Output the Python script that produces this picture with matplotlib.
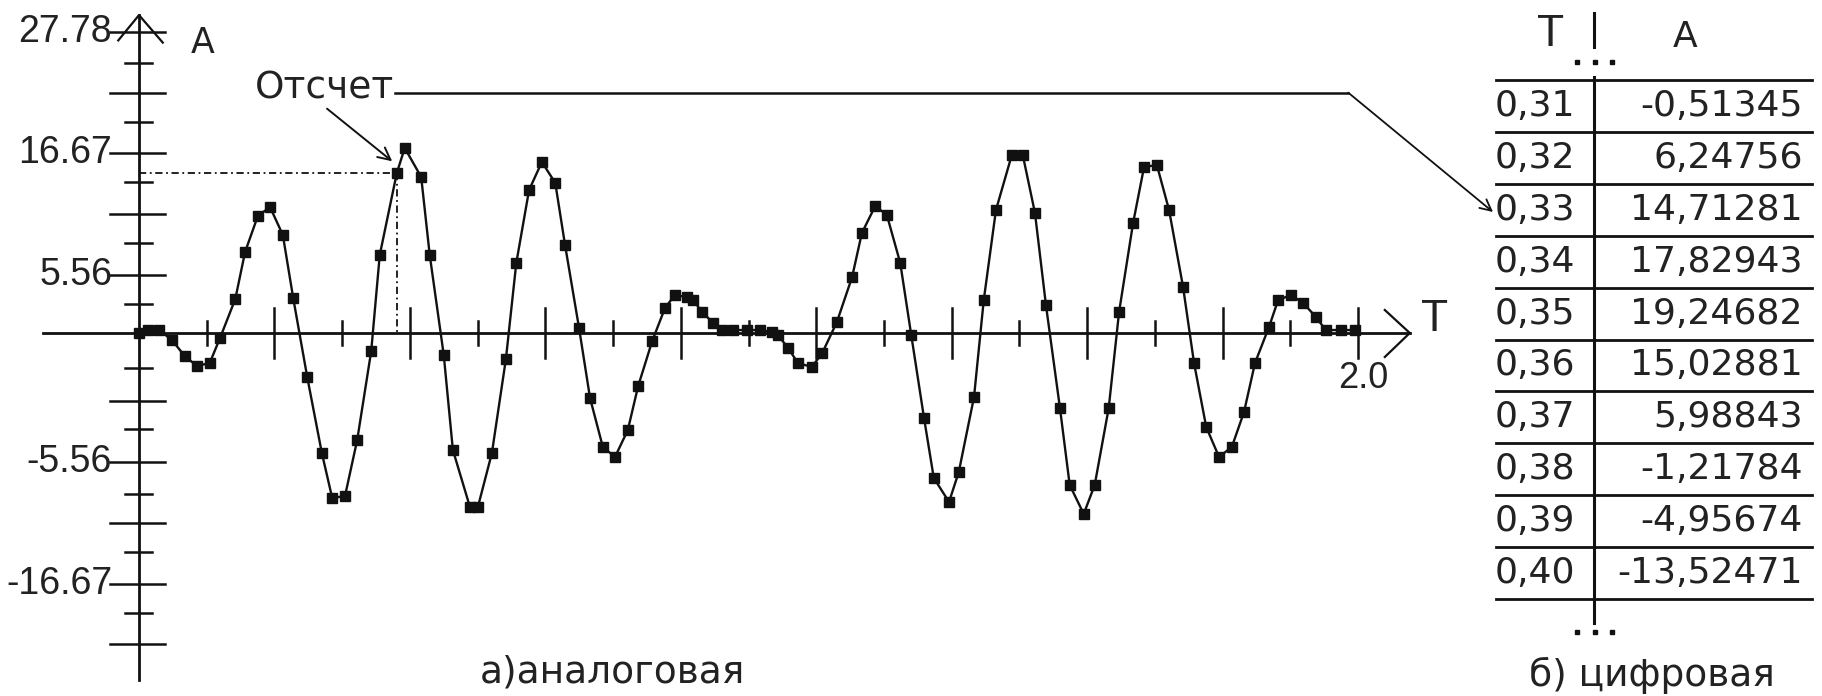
import numpy as np
import matplotlib
matplotlib.use('Agg')
from matplotlib import pyplot as plt

plt.rcParams['font.family'] = ['DejaVu Sans']

# аналоговый сигнал (отсчеты)
t_vals = [0.000, 0.015, 0.033, 0.054, 0.075, 0.095, 0.116, 0.133, 0.158, 0.174,
          0.195, 0.215, 0.236, 0.253, 0.276, 0.300, 0.317, 0.338, 0.358, 0.381,
          0.395, 0.423, 0.436, 0.463, 0.477, 0.500, 0.515, 0.543, 0.556, 0.579,
          0.602, 0.619, 0.640, 0.661, 0.683, 0.699, 0.722, 0.740, 0.761, 0.781,
          0.802, 0.819, 0.842, 0.863, 0.879, 0.899, 0.909, 0.924, 0.942, 0.957,
          0.975, 0.998, 1.019, 1.039, 1.048, 1.065, 1.081, 1.104, 1.121, 1.145,
          1.170, 1.186, 1.208, 1.227, 1.249, 1.267, 1.288, 1.304, 1.329, 1.345,
          1.370, 1.386, 1.406, 1.432, 1.450, 1.470, 1.488, 1.511, 1.527, 1.550,
          1.568, 1.591, 1.608, 1.631, 1.649, 1.670, 1.690, 1.713, 1.731, 1.751,
          1.772, 1.793, 1.813, 1.831, 1.854, 1.869, 1.890, 1.910, 1.931, 1.947,
          1.972, 1.995]
a_vals = [0.00, 0.27, 0.27, -0.64, -2.09, -3.00, -2.73, -0.45, 3.09, 7.36,
          10.64, 11.45, 8.91, 3.18, -4.00, -10.91, -15.00, -14.82, -9.73, -1.64,
          7.09, 14.55, 16.82, 14.18, 7.09, -2.00, -10.64, -15.82, -15.82, -10.91,
          -2.36, 6.36, 13.00, 15.55, 13.64, 8.00, 0.45, -5.91, -10.36, -11.27,
          -8.82, -4.82, -0.73, 2.27, 3.45, 3.27, 3.00, 1.91, 0.91, 0.27,
          0.27, 0.27, 0.27, 0.09, -0.18, -1.36, -2.73, -3.09, -1.82, 1.00,
          5.09, 9.09, 11.55, 10.73, 6.36, -0.18, -7.73, -13.18, -15.36, -12.64,
          -5.82, 3.00, 11.18, 16.18, 16.18, 10.91, 2.55, -6.82, -13.82, -16.45,
          -13.82, -6.82, 1.91, 10.00, 15.09, 15.27, 11.18, 4.18, -2.73, -8.55,
          -11.27, -10.36, -7.18, -2.73, 0.55, 3.00, 3.45, 2.73, 1.45, 0.27,
          0.27, 0.27]
sample_idx = 21  # отмеченный отсчет

# шкала A (как на картинке)
y_major = [27.36, 21.82, 16.36, 10.82, 5.27, -6.18, -11.73, -17.27, -22.82, -28.27]
y_minor = [24.55, 19.18, 13.73, 8.18, 2.64, -3.18, -8.73, -14.64, -19.91, -25.45]
y_labels = {27.36: '27.78', 16.36: '16.67', 5.27: '5.56', -11.73: '-5.56', -22.82: '-16.67'}
x_ticks = np.linspace(0, 2.0, 19)[1:]

# цифровая таблица
table_t = [0.31, 0.32, 0.33, 0.34, 0.35, 0.36, 0.37, 0.38, 0.39, 0.40]
table_a = [-0.51345, 6.24756, 14.71281, 17.82943, 19.24682, 15.02881,
           5.98843, -1.21784, -4.95674, -13.52471]

W, H = 1822, 696
X0, PX_T = 139, 609.5   # пикселей на единицу T
Y0, PX_A = 333, 11.0    # пикселей на единицу A
ink = '#111111'
txt = '#222222'

fig = plt.figure(figsize=(W / 100, H / 100), dpi=100)
fig.patch.set_facecolor('white')
ax = fig.add_axes([0, 0, 1, 1])
ax.set_xlim(-X0 / PX_T, (W - X0) / PX_T)
ax.set_ylim(-(H - Y0) / PX_A, Y0 / PX_A)
ax.axis('off')

# оси
ax.plot([0, 0], [-31.55, 28.9], color=ink, lw=2)
ax.plot([-0.034, 0, 0.039], [26.6, 28.9, 26.4], color=ink, lw=1.6)
ax.plot([-0.157, 2.085], [0, 0], color=ink, lw=2)
ax.plot([2.044, 2.085, 2.044], [2.09, 0, -2.18], color=ink, lw=1.6)

for y in y_major:
    ax.plot([-0.0476, 0.0427], [y, y], color=ink, lw=1.8)
for y in y_minor:
    ax.plot([-0.023, 0.0213], [y, y], color=ink, lw=1.8)
for y, lab in y_labels.items():
    ax.text(-0.044, y, lab, ha='right', va='center', fontsize=27,
            family='Liberation Sans', color=txt)
for i, x in enumerate(x_ticks):
    h = 2.3 if i % 2 == 1 else 1.1
    ax.plot([x, x], [-h, h], color=ink, lw=1.8)

ax.text(0.105, 26.4, 'A', ha='center', va='center', fontsize=25, color=txt)
ax.text(2.126, 1.2, 'T', ha='center', va='center', fontsize=32,
        family='Liberation Sans', color=txt)
ax.text(2.008, -4.1, '2.0', ha='center', va='center', fontsize=26,
        family='Liberation Sans', color=txt)

# сигнал
ax.plot(t_vals, a_vals, color=ink, lw=1.7, marker='s', markersize=7.5,
        markerfacecolor=ink, markeredgecolor=ink)

# отсчет
ts, As = t_vals[sample_idx], a_vals[sample_idx]
ax.plot([0, ts], [As, As], color=ink, lw=1.3, linestyle=(0, (4, 2, 1, 2)))
ax.plot([ts, ts], [As, 0], color=ink, lw=1.3, linestyle=(0, (4, 2, 1, 2)))
ax.text(0.190, 22.2, 'Отсчет', ha='left', va='center', fontsize=27, color=txt)
ax.annotate('', xy=(ts - 0.004, As + 0.9), xytext=(0.305, 20.55),
            arrowprops=dict(arrowstyle='->', color=ink, lw=1.4, mutation_scale=22))
ax.plot([0.420, 1.984], [21.85, 21.85], color=ink, lw=1.8)
ax.annotate('', xy=(2.2215, 11.0), xytext=(1.984, 21.85),
            arrowprops=dict(arrowstyle='->', color=ink, lw=1.3, mutation_scale=20,
                            shrinkA=0, shrinkB=0))

ax.text(612 / PX_T - X0 / PX_T, -(672 - Y0) / PX_A, 'а)аналоговая', ha='center',
        va='center', fontsize=27, color=txt)

# таблица
tx = fig.add_axes([1440 / W, 0, (W - 1440) / W, 1])
row_h = 51.9
tx.set_xlim(0, W - 1440)
tx.set_ylim((H - 80) / row_h, -80 / row_h)
tx.axis('off')

for k in range(len(table_t) + 1):
    tx.plot([56, 372], [k, k], color=ink, lw=2.0)
tx.plot([154, 154], [-0.06, 10.46], color=ink, lw=2.2)
tx.plot([154, 154], [-1.29, -0.64], color=ink, lw=2.2)
for yy in (-0.35, 10.64):
    tx.plot([137, 155, 172], [yy, yy, yy], 's', color=ink, markersize=3.5)

tx.text(111, -0.88, 'T', ha='center', va='center', fontsize=32,
        family='Liberation Sans', color=txt)
tx.text(245, -0.82, 'A', ha='center', va='center', fontsize=26, color=txt)
for i, (tv, av) in enumerate(zip(table_t, table_a)):
    tx.text(55, i + 0.5, f'{tv:.2f}'.replace('.', ','), ha='left', va='center',
            fontsize=26, color=txt)
    tx.text(363, i + 0.5, f'{av:.5f}'.replace('.', ','), ha='right', va='center',
            fontsize=26, color=txt)

tx.text(212, (675 - 80) / row_h, 'б) цифровая', ha='center', va='center',
        fontsize=27, color=txt)

fig.savefig('out.png', dpi=100, facecolor='white')
